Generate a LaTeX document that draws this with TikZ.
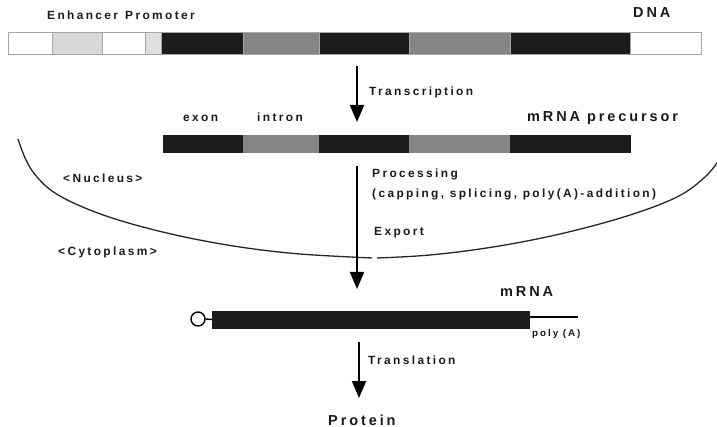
\documentclass[tikz,border=0pt]{standalone}
\usepackage{fontspec}
\setmainfont{Liberation Sans}
\newfontfamily\lab[LetterSpace=20]{Liberation Sans}
\usetikzlibrary{arrows.meta}
\definecolor{blk}{HTML}{1C1C1C}
\definecolor{gry}{HTML}{858585}
\definecolor{lgt}{HTML}{D8D8D8}
\definecolor{txt}{HTML}{1A1A1A}
\begin{document}
\begin{tikzpicture}[x=1pt,y=-1pt,
  seg/.style={anchor=north west,inner sep=0,outer sep=0,draw=gray!70,line width=0.7pt},
  dseg/.style={seg,minimum height=22pt},
  pseg/.style={seg,minimum height=17pt,draw=blk},
  lbl/.style={anchor=base west,inner sep=0,text=txt,font=\lab\bfseries\fontsize{11.9}{14}\selectfont},
  big/.style={anchor=base west,inner sep=0,text=txt,font=\lab\bfseries\fontsize{14.5}{16}\selectfont},
  small/.style={anchor=base west,inner sep=0,text=txt,font=\lab\bfseries\fontsize{9.8}{11}\selectfont},
  flow/.style={line width=2pt,-{Triangle[length=17pt,width=14pt]}},
  membrane/.style={line width=1.3pt,black!85}]
\useasboundingbox (0,0) rectangle (717,427);
% DNA
\node[dseg,fill=white,minimum width=44pt] (d1) at (8,32) {};
\node[dseg,fill=lgt,minimum width=50pt] (d2) at (52,32) {};
\node[dseg,fill=white,minimum width=43pt] (d3) at (102,32) {};
\node[dseg,fill=black!12,minimum width=16pt] (d4) at (145,32) {};
\node[dseg,fill=blk,minimum width=82pt] (d5) at (161,32) {};
\node[dseg,fill=gry,minimum width=76pt] (d6) at (243,32) {};
\node[dseg,fill=blk,minimum width=90pt] (d7) at (319,32) {};
\node[dseg,fill=gry,minimum width=101pt] (d8) at (409,32) {};
\node[dseg,fill=blk,minimum width=120pt] (d9) at (510,32) {};
\node[dseg,fill=white,minimum width=71pt] (d10) at (630,32) {};
\node[lbl] (enh) at (47,20) {Enhancer};
\node[lbl] (pro) at (125,20) {Promoter};
\node[big] (dna) at (633,18) {DNA};
% transcription
\coordinate (a1s) at (357,66);
\coordinate (a1e) at (357,122);
\draw[flow] (a1s) -- (a1e);
\node[lbl] (tr) at (369,96) {Transcription};
% precursor
\node[pseg,fill=blk,minimum width=80pt] (p1) at (163,135) {};
\node[pseg,fill=gry,draw=gry,minimum width=76pt] (p2) at (243,135) {};
\node[pseg,fill=blk,minimum width=90pt] (p3) at (319,135) {};
\node[pseg,fill=gry,draw=gry,minimum width=101pt] (p4) at (409,135) {};
\node[pseg,fill=blk,minimum width=120pt] (p5) at (510,135) {};
\node[lbl] (exon) at (183,122) {exon};
\node[lbl] (intron) at (257,122) {intron};
\node[big] (prec) at (527,122) {mRNA precursor};
% membrane
\draw[membrane] plot[smooth,tension=0.6] coordinates {(18,139) (26,160) (37,177) (55,193) (85,208) (125,222) (180,236) (240,247) (300,254) (372,258)};
\draw[membrane] plot[smooth,tension=0.6] coordinates {(377,258) (430,255) (493,247) (560,234) (627,216) (677,197) (705,177) (719,160)};
\node[lbl] (nuc) at (63,183) {<Nucleus>};
\node[lbl] (cyt) at (58,256) {<Cytoplasm>};
% processing
\coordinate (a2s) at (357,166);
\coordinate (a2e) at (357,289);
\draw[flow] (a2s) -- (a2e);
\node[lbl] (proc) at (372,178) {Processing};
\node[lbl] (cap) at (372,198) {(capping, splicing, poly(A)-addition)};
\node[lbl] (exp) at (374,236) {Export};
% mRNA
\node[seg,draw=blk,fill=blk,minimum width=317pt,minimum height=17pt] (m) at (212,311) {};
\node[circle,draw=black,line width=1.4pt,fill=white,minimum size=14pt,inner sep=0] (capc) at (198,319) {};
\coordinate (tail) at (578,317);
\draw[line width=1.4pt] (capc.east) -- (m.west);
\draw[line width=2pt] (m.east |- tail) -- (tail);
\node[big] (mrna) at (500,297) {mRNA};
\node[small] (polya) at (532,337) {poly (A)};
% translation
\coordinate (a3s) at (359,342);
\coordinate (a3e) at (359,398);
\draw[flow] (a3s) -- (a3e);
\node[lbl] (tl) at (368,364) {Translation};
\node[big] (prot) at (328,425) {Protein};
\end{tikzpicture}
\end{document}
